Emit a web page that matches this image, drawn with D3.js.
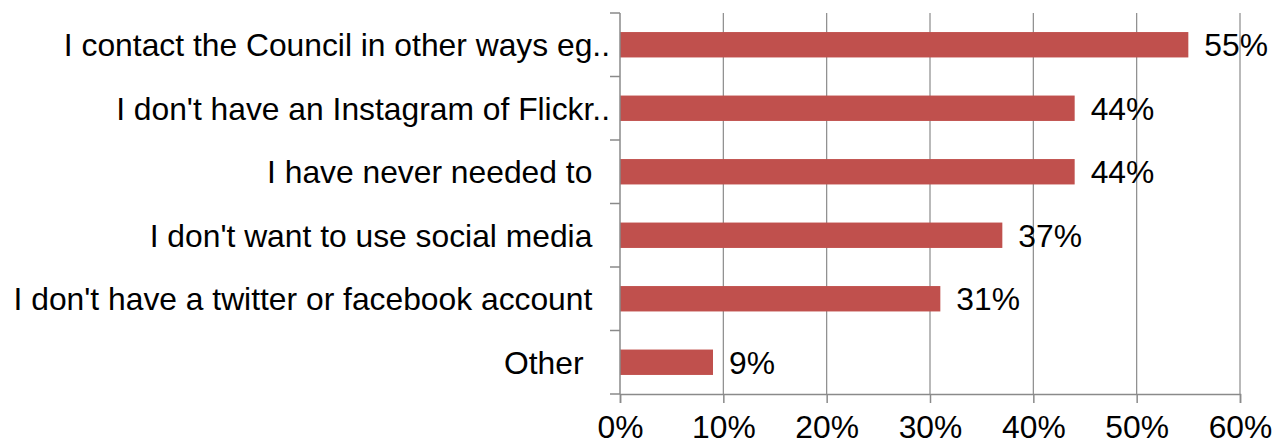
<!DOCTYPE html>
<html>
<head>
<meta charset="utf-8">
<script src="https://cdn.jsdelivr.net/npm/d3@7"></script>
<style>
  body { margin: 0; background: #fff; }
  text { font-family: "Liberation Sans", Arial, sans-serif; fill: #000; white-space: pre; }
</style>
</head>
<body>
<svg id="chart" width="1274" height="446"></svg>
<script>
// survey answers, top to bottom (trailing spaces as in the source labels)
var categories = [
  "I contact the Council in other ways eg..",
  "I don't have an Instagram of Flickr..",
  "I have never needed to  ",
  "I don't want to use social media  ",
  "I don't have a twitter or facebook account  ",
  "Other   "
]
var values = [55, 44, 44, 37, 31, 9]
var xTicks = [0, 10, 20, 30, 40, 50, 60]

var width = 1274, height = 446
var margin = { top: 13, right: 34, bottom: 52, left: 620 }
var svg = d3.select("#chart")

var x = d3.scaleLinear().domain([0, 60]).range([margin.left, width - margin.right])
var y = d3.scaleBand().domain(categories).range([margin.top, height - margin.bottom]).paddingInner(0.6).paddingOuter(0.3)

var data = categories.map((c, i) => ({ cat: c, val: values[i] }))
var gridColor = "#8a8a8a"
var fontSize = 31.8

// vertical gridlines
svg.selectAll(".grid")
  .data(xTicks.slice(1))
  .join("line")
  .attr("class", "grid")
  .attr("x1", d => x(d)).attr("x2", d => x(d))
  .attr("y1", margin.top).attr("y2", height - margin.bottom)
  .attr("stroke", gridColor).attr("stroke-width", 1.2)

// bars
svg.selectAll(".bar")
  .data(data)
  .join("rect")
  .attr("class", "bar")
  .attr("x", x(0))
  .attr("y", d => y(d.cat))
  .attr("width", d => x(d.val) - x(0))
  .attr("height", y.bandwidth())
  .attr("fill", "#c0504d")

// bottom axis
var xAxis = svg.append("g")
  .attr("transform", `translate(0,${height - margin.bottom})`)
  .call(d3.axisBottom(x).tickValues(xTicks).tickFormat(d => d + "%").tickSize(9).tickPadding(12))
xAxis.select(".domain").attr("stroke", gridColor).attr("stroke-width", 1.5)
xAxis.selectAll(".tick line").attr("stroke", gridColor).attr("stroke-width", 1.5)
xAxis.selectAll(".tick text").style("font-size", fontSize + "px").attr("fill", "#000")
  .attr("font-family", null).attr("dy", "0.71em")

// left axis: line with ticks on the category boundaries
var bounds = d3.range(categories.length + 1).map(i => margin.top + i * y.step())
svg.append("line")
  .attr("x1", x(0)).attr("x2", x(0))
  .attr("y1", margin.top).attr("y2", height - margin.bottom)
  .attr("stroke", gridColor).attr("stroke-width", 1.5)
svg.selectAll(".ytick")
  .data(bounds)
  .join("line")
  .attr("class", "ytick")
  .attr("x1", x(0) - 10).attr("x2", x(0))
  .attr("y1", d => d).attr("y2", d => d)
  .attr("stroke", gridColor).attr("stroke-width", 1.5)

// category labels
svg.selectAll(".cat-label")
  .data(data)
  .join("text")
  .attr("class", "cat-label")
  .attr("text-anchor", "end")
  .attr("x", x(0) - 10)
  .attr("y", d => y(d.cat) + y.bandwidth() / 2 + fontSize * 0.36)
  .style("font-size", fontSize + "px")
  .text(d => d.cat)

// value labels
svg.selectAll(".val-label")
  .data(data)
  .join("text")
  .attr("class", "val-label")
  .attr("x", d => x(d.val) + 16)
  .attr("y", d => y(d.cat) + y.bandwidth() / 2 + fontSize * 0.36)
  .style("font-size", fontSize + "px")
  .text(d => d.val + "%")
</script>
</body>
</html>
